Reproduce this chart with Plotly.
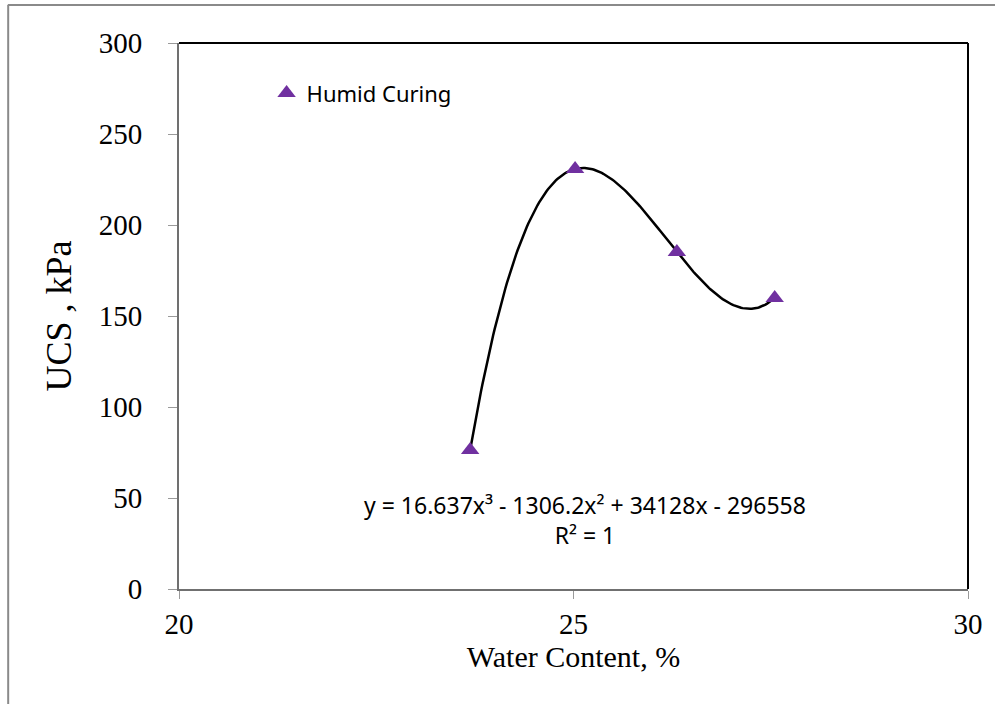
import numpy as np
import plotly.graph_objects as go

# Data
water_content = [23.69, 25.02, 26.31, 27.55]
ucs_kpa = [76.4, 230.8, 185.2, 159.9]
series_name = "Humid Curing"
equation_text = "y = 16.637x³ - 1306.2x² + 34128x - 296558<br>R² = 1"
x_ticks = [20, 25, 30]
y_ticks = [0, 50, 100, 150, 200, 250, 300]

# Cubic trendline through the data
coef = np.polyfit(water_content, ucs_kpa, 3)
xs = np.linspace(min(water_content), max(water_content), 200)
ys = np.polyval(coef, xs)

fig = go.Figure()
fig.add_trace(go.Scatter(x=xs, y=ys, mode="lines", line=dict(color="black", width=2.5),
                         showlegend=False, hoverinfo="skip"))
fig.add_trace(go.Scatter(x=water_content, y=ucs_kpa, mode="markers", name=series_name,
                         marker=dict(symbol="triangle-up", size=16, color="#7030A0")))

serif = "Liberation Serif, Times New Roman, serif"
tick_font = dict(family=serif, size=29, color="black")
fig.update_layout(
    width=995, height=704,
    margin=dict(l=179, r=23, t=43, b=115),
    paper_bgcolor="white", plot_bgcolor="white",
    xaxis=dict(range=[20, 30], tickvals=x_ticks, ticks="outside", ticklen=8, tickcolor="#9a9a9a",
               showline=True, linecolor="#707070", linewidth=2, showgrid=False, zeroline=False,
               tickfont=tick_font,
               title=dict(text="Water Content, %", font=dict(family=serif, size=30, color="black"), standoff=6)),
    yaxis=dict(range=[0, 300], tickvals=y_ticks, ticks="outside", ticklen=9, tickcolor="#9a9a9a",
               showline=True, linecolor="#707070", linewidth=2, showgrid=False, zeroline=False,
               tickfont=tick_font, ticklabelstandoff=20,
               title=dict(text="UCS , kPa", font=dict(family=serif, size=36, color="black"), standoff=16)),
    legend=dict(x=0.111, y=0.908, xanchor="left", yanchor="middle", bgcolor="rgba(0,0,0,0)",
                font=dict(family="Noto Sans, Open Sans, sans-serif", size=22, color="black"),
                itemsizing="trace", itemwidth=30),
    shapes=[
        dict(type="line", xref="paper", yref="paper", x0=0, x1=1, y0=1, y1=1, line=dict(color="black", width=2)),
        dict(type="line", xref="paper", yref="paper", x0=1, x1=1, y0=0, y1=1, line=dict(color="black", width=2)),
        dict(type="line", xref="paper", yref="paper", x0=-0.217, x1=1.1, y0=1.0696, y1=1.0696, line=dict(color="#8a8a8a", width=2)),
        dict(type="line", xref="paper", yref="paper", x0=-0.2165, x1=-0.2165, y0=-0.3, y1=1.0696, line=dict(color="#8a8a8a", width=2)),
    ],
    annotations=[
        dict(text=equation_text, xref="x", yref="y", x=25.15, y=38, xanchor="center", yanchor="middle",
             showarrow=False, align="center",
             font=dict(family="Noto Sans, Open Sans, sans-serif", size=23, color="black")),
    ],
)

fig.write_html("out.html")
